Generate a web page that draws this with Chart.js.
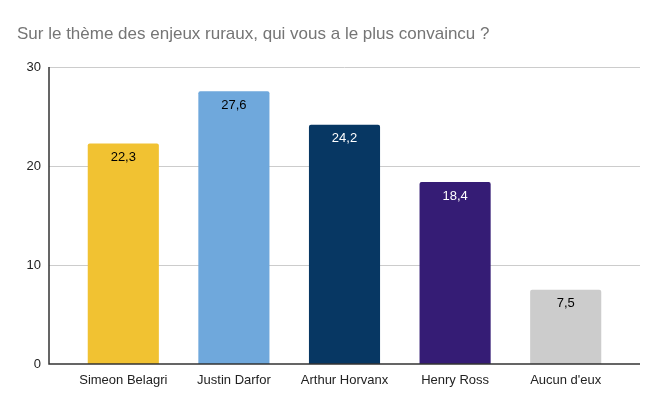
<!DOCTYPE html>
<html>
<head>
<meta charset="utf-8">
<script src="https://cdn.jsdelivr.net/npm/chart.js@4"></script>
<style>
  html, body { margin: 0; padding: 0; background: #fff; }
</style>
</head>
<body>
<canvas id="chart" width="660" height="408"></canvas>
<script>
const titleText = 'Sur le thème des enjeux ruraux, qui vous a le plus convaincu ?';
const candidates = ['Simeon Belagri', 'Justin Darfor', 'Arthur Horvanx', 'Henry Ross', "Aucun d'eux"];
const scores = [22.3, 27.6, 24.2, 18.4, 7.5];
const barColors = ['#f1c232', '#6fa8dc', '#073763', '#351c75', '#cccccc'];
const labelColors = ['#000000', '#000000', '#ffffff', '#ffffff', '#000000'];
const yTicks = [0, 10, 20, 30];

const FONT = '"Liberation Sans", Arial, sans-serif';
const EXTEND = 19; // grid lines run past the plot area

// grid lines and axis lines that run wider than the bars' area
const gridPlugin = {
    id: 'wideGrid',
    beforeDatasetsDraw(chart) {
        const { ctx, chartArea, scales } = chart;
        ctx.save();
        ctx.strokeStyle = '#cccccc';
        ctx.lineWidth = 1;
        yTicks.forEach(v => {
            if (v === 0) return;
            const y = Math.round(scales.y.getPixelForValue(v)) + 0.5;
            ctx.beginPath();
            ctx.moveTo(chartArea.left - EXTEND, y);
            ctx.lineTo(chartArea.right + EXTEND, y);
            ctx.stroke();
        });
        ctx.restore();
    },
    afterDatasetsDraw(chart) {
        const { ctx, chartArea, scales } = chart;
        const y0 = Math.round(scales.y.getPixelForValue(0));
        const yTop = Math.round(scales.y.getPixelForValue(yTicks[yTicks.length - 1]));
        const x0 = chartArea.left - EXTEND;
        ctx.save();
        ctx.strokeStyle = '#333333';
        ctx.lineWidth = 1.5;
        ctx.beginPath();
        ctx.moveTo(x0, yTop);
        ctx.lineTo(x0, y0);
        ctx.lineTo(chartArea.right + EXTEND, y0);
        ctx.stroke();

        // value labels inside the top of each bar
        const meta = chart.getDatasetMeta(0);
        ctx.font = '13px ' + FONT;
        ctx.textAlign = 'center';
        ctx.textBaseline = 'middle';
        meta.data.forEach((bar, i) => {
            ctx.fillStyle = labelColors[i];
            ctx.fillText(scores[i].toFixed(1).replace('.', ','), bar.x, bar.y + 14);
        });
        ctx.restore();
    }
};

new Chart(document.getElementById('chart'), {
    type: 'bar',
    data: {
        labels: candidates,
        datasets: [{
            data: scores,
            backgroundColor: barColors,
            borderRadius: { topLeft: 2, topRight: 2 },
            borderSkipped: 'bottom',
            categoryPercentage: 1,
            barPercentage: 0.643
        }]
    },
    options: {
        responsive: false,
        animation: false,
        devicePixelRatio: 1,
        layout: { padding: { left: 17, right: 39, top: 0, bottom: 0 } },
        plugins: {
            legend: { display: false },
            tooltip: { enabled: false },
            title: {
                display: true,
                text: titleText,
                align: 'start',
                color: '#757575',
                font: { family: FONT, size: 17, weight: 'normal' },
                padding: { top: 24, bottom: 23 }
            }
        },
        scales: {
            x: {
                grid: { display: false, drawTicks: false },
                border: { display: false },
                ticks: {
                    color: '#222222',
                    font: { family: FONT, size: 13 },
                    padding: 9,
                    maxRotation: 0
                },
                afterFit(scale) { scale.height = 44; }
            },
            y: {
                min: 0,
                max: 30,
                afterBuildTicks(scale) { scale.ticks = yTicks.map(v => ({ value: v })); },
                grid: { display: false, drawTicks: false },
                border: { display: false },
                ticks: {
                    color: '#222222',
                    font: { family: FONT, size: 13 },
                    padding: 27
                },
                afterFit(scale) { scale.width = 51; }
            }
        }
    },
    plugins: [gridPlugin]
});
</script>
</body>
</html>
